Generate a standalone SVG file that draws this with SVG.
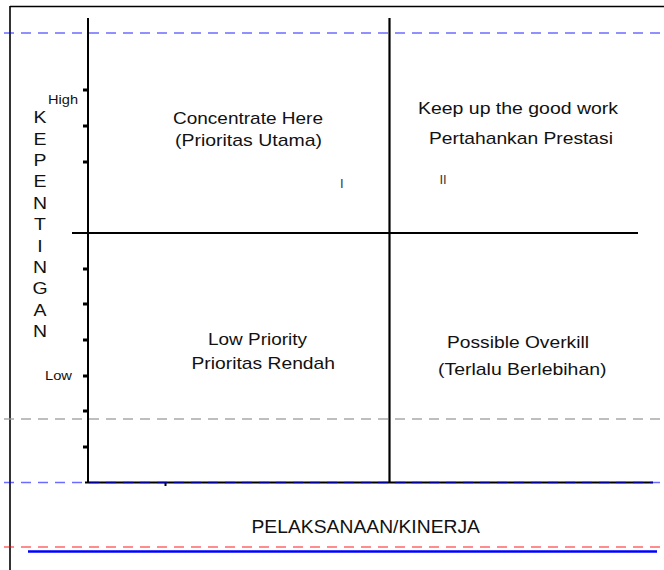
<svg xmlns="http://www.w3.org/2000/svg" width="664" height="570" viewBox="0 0 664 570">
<style>
  text { font-family: "Liberation Sans", Arial, sans-serif; fill: #111; }
  .q { font-size: 16px; }
  .axl { font-size: 12.5px; }
  .vl { font-size: 16.5px; text-anchor: middle; }
  .roman { font-size: 13px; fill: #333; }
  .ax { stroke: #000; fill: none; }
  .tick { fill: #000; }
  .dblue { stroke: #0000ff; stroke-opacity: 0.58; stroke-width: 1.3; stroke-dasharray: 10 7; fill: none; }
  .dgray { stroke: #9a9a9a; stroke-opacity: 0.85; stroke-width: 1.3; stroke-dasharray: 10 7; fill: none; }
  .dred { stroke: #ff0000; stroke-opacity: 0.6; stroke-width: 1.3; stroke-dasharray: 10 7; fill: none; }
</style>
<rect width="664" height="570" fill="#fff"/>

<g id="frame">
  <line class="ax" x1="10" y1="6.5" x2="664" y2="6.5" stroke-width="1.6"/>
  <line class="ax" x1="10" y1="6" x2="10" y2="570" stroke-width="1.6"/>
</g>

<g id="axes">
  <line class="ax" x1="88" y1="18" x2="88" y2="483" stroke-width="2"/>
  <line class="ax" x1="85" y1="482.5" x2="653" y2="482.5" stroke-width="2"/>
  <line class="ax" x1="72" y1="233" x2="638" y2="233" stroke-width="2"/>
  <line class="ax" x1="389.5" y1="18" x2="389.5" y2="483" stroke-width="2.2"/>
  <g id="ticks">
    <rect class="tick" x="83" y="88.5" width="5" height="3"/>
    <rect class="tick" x="83" y="124.5" width="5" height="3"/>
    <rect class="tick" x="83" y="160.5" width="5" height="3"/>
    <rect class="tick" x="83" y="267.5" width="5" height="3"/>
    <rect class="tick" x="83" y="302.5" width="5" height="3"/>
    <rect class="tick" x="83" y="338.5" width="5" height="3"/>
    <rect class="tick" x="83" y="374.5" width="5" height="3"/>
    <rect class="tick" x="83" y="409.5" width="5" height="3"/>
    <rect class="tick" x="83" y="445.5" width="5" height="3"/>
    <rect class="tick" x="164.5" y="483" width="2" height="3"/>
  </g>
</g>

<g id="guides">
  <line class="dblue" x1="4" y1="33" x2="664" y2="33"/>
  <line class="dgray" x1="4" y1="419" x2="664" y2="419"/>
  <line class="dblue" x1="4" y1="482.5" x2="664" y2="482.5"/>
  <line class="dred" x1="4" y1="547" x2="664" y2="547"/>
  <line x1="28" y1="551.5" x2="657" y2="551.5" stroke="#0000ff" stroke-width="2.5"/>
</g>

<g id="y-axis-labels">
  <text class="axl" transform="translate(48,103.5) scale(1.2,1)" textLength="25" lengthAdjust="spacingAndGlyphs">High</text>
  <text class="axl" transform="translate(45,380) scale(1.2,1)" textLength="22.5" lengthAdjust="spacingAndGlyphs">Low</text>
</g>

<g id="y-title">
  <text class="vl" transform="translate(40,123.3) scale(1.18,1)">K</text>
  <text class="vl" transform="translate(40,144.7) scale(1.18,1)">E</text>
  <text class="vl" transform="translate(40,166) scale(1.18,1)">P</text>
  <text class="vl" transform="translate(40,187.4) scale(1.18,1)">E</text>
  <text class="vl" transform="translate(40,208.8) scale(1.18,1)">N</text>
  <text class="vl" transform="translate(40,230) scale(1.18,1)">T</text>
  <text class="vl" transform="translate(40,251.5) scale(1.18,1)">I</text>
  <text class="vl" transform="translate(40,273) scale(1.18,1)">N</text>
  <text class="vl" transform="translate(40,294.3) scale(1.18,1)">G</text>
  <text class="vl" transform="translate(40,316) scale(1.18,1)">A</text>
  <text class="vl" transform="translate(40,337) scale(1.18,1)">N</text>
</g>

<g id="q1">
  <text class="q" transform="translate(173,124) scale(1.2,1)" textLength="125" lengthAdjust="spacingAndGlyphs">Concentrate Here</text>
  <text class="q" transform="translate(175,146) scale(1.2,1)" textLength="122.5" lengthAdjust="spacingAndGlyphs">(Prioritas Utama)</text>
  <text class="roman" x="340" y="188">I</text>
</g>

<g id="q2">
  <text class="q" transform="translate(418,113.5) scale(1.2,1)" textLength="166.7" lengthAdjust="spacingAndGlyphs">Keep up the good work</text>
  <text class="q" transform="translate(429,143.5) scale(1.2,1)" textLength="153.3" lengthAdjust="spacingAndGlyphs">Pertahankan Prestasi</text>
  <text class="roman" x="439.5" y="184">II</text>
</g>

<g id="q3">
  <text class="q" transform="translate(208,345) scale(1.2,1)" textLength="82.5" lengthAdjust="spacingAndGlyphs">Low Priority</text>
  <text class="q" transform="translate(191.5,369) scale(1.2,1)" textLength="119.6" lengthAdjust="spacingAndGlyphs">Prioritas Rendah</text>
</g>

<g id="q4">
  <text class="q" transform="translate(447,347.5) scale(1.2,1)" textLength="118.3" lengthAdjust="spacingAndGlyphs">Possible Overkill</text>
  <text class="q" transform="translate(438,375) scale(1.2,1)" textLength="140.4" lengthAdjust="spacingAndGlyphs">(Terlalu Berlebihan)</text>
</g>

<g id="x-title">
  <text transform="translate(251.5,533) scale(1.2,1)" font-size="18" textLength="190.4" lengthAdjust="spacingAndGlyphs">PELAKSANAAN/KINERJA</text>
</g>
</svg>
